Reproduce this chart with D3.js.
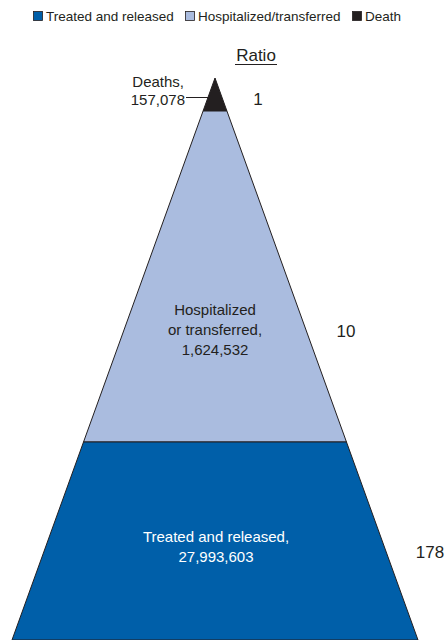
<!DOCTYPE html>
<html>
<head>
<meta charset="utf-8">
<script src="https://cdn.jsdelivr.net/npm/d3@7"></script>
<style>
  html, body { margin: 0; padding: 0; background: #fff; }
  svg { display: block; font-family: "Liberation Sans", Arial, sans-serif; }
</style>
</head>
<body>
<svg id="chart" width="446" height="640"></svg>
<script>
// ---- data ----
const categories = ["Death", "Hospitalized/transferred", "Treated and released"];
const legendLabels = ["Treated and released", "Hospitalized/transferred", "Death"];
const values = [157078, 1624532, 27993603];
const ratios = [1, 10, 178];
const bandLabels = [
  ["Deaths,", "157,078"],
  ["Hospitalized", "or transferred,", "1,624,532"],
  ["Treated and released,", "27,993,603"]
];
const colors = { "Death": "#231f20", "Hospitalized/transferred": "#aabcdf", "Treated and released": "#005fa9" };

// ---- layout (conceptual pyramid: band heights are not proportional) ----
const apex = { x: 215, y: 78 };
const baseY = 640, baseHalf = 203;
const bandBreaks = [0, 33, 364, 562]; // cumulative pyramid depth from apex
const textColor = "#231f20";

const svg = d3.select("#chart");

const y = d3.scaleLinear().domain([0, 562]).range([apex.y, baseY]);
const half = d3.scaleLinear().domain([apex.y, baseY]).range([0, baseHalf]);

const bands = categories.map((c, i) => ({
  cat: c, value: values[i], ratio: ratios[i],
  y0: y(bandBreaks[i]), y1: y(bandBreaks[i + 1])
}));

svg.append("g").selectAll("path").data(bands).join("path")
  .attr("d", d => {
    const h0 = half(d.y0), h1 = half(d.y1);
    return `M${apex.x - h0},${d.y0}L${apex.x + h0},${d.y0}L${apex.x + h1},${d.y1}L${apex.x - h1},${d.y1}Z`;
  })
  .attr("fill", d => colors[d.cat])
  .attr("stroke", "#231f20")
  .attr("stroke-width", 1);

// ---- legend ----
const legendX = [33, 185, 352];
const lg = svg.append("g").attr("font-size", 13.5).attr("fill", textColor);
legendLabels.forEach((l, i) => {
  lg.append("rect").attr("x", legendX[i] + 0.5).attr("y", 11.5).attr("width", 9).attr("height", 9)
    .attr("fill", colors[l]).attr("stroke", "#231f20").attr("stroke-width", 0.8);
  lg.append("text").attr("x", legendX[i] + 13).attr("y", 21).text(l);
});

// ---- Ratio header ----
svg.append("text").attr("x", 256).attr("y", 61).attr("text-anchor", "middle")
  .attr("font-size", 17).attr("fill", textColor).text("Ratio");
svg.append("line").attr("x1", 235).attr("x2", 277).attr("y1", 64.5).attr("y2", 64.5)
  .attr("stroke", textColor).attr("stroke-width", 1);

// ---- ratio numbers ----
const ratioPos = [{ x: 258, y: 105 }, { x: 346, y: 337 }, { x: 430, y: 558 }];
svg.append("g").selectAll("text").data(bands).join("text")
  .attr("x", (d, i) => ratioPos[i].x).attr("y", (d, i) => ratioPos[i].y)
  .attr("text-anchor", "middle").attr("font-size", 17).attr("fill", textColor)
  .text(d => d3.format(",")(d.ratio));

// ---- Deaths label (outside, with leader) ----
const dl = svg.append("text").attr("font-size", 15).attr("fill", textColor).attr("text-anchor", "end");
dl.append("tspan").attr("x", 184).attr("y", 87).text(bandLabels[0][0]);
dl.append("tspan").attr("x", 185).attr("y", 105).text(bandLabels[0][1]);
const leaderY = 97.5;
svg.append("line").attr("x1", 186).attr("x2", apex.x - half(leaderY) + 1)
  .attr("y1", leaderY).attr("y2", leaderY).attr("stroke", textColor).attr("stroke-width", 1);

// ---- band labels ----
const hl = svg.append("text").attr("font-size", 15).attr("fill", textColor).attr("text-anchor", "middle");
[315, 335, 355].forEach((yy, i) => hl.append("tspan").attr("x", 215).attr("y", yy).text(bandLabels[1][i]));

const tl = svg.append("text").attr("font-size", 15).attr("fill", "#ffffff").attr("text-anchor", "middle");
[542, 562].forEach((yy, i) => tl.append("tspan").attr("x", 216).attr("y", yy).text(bandLabels[2][i]));
</script>
</body>
</html>
